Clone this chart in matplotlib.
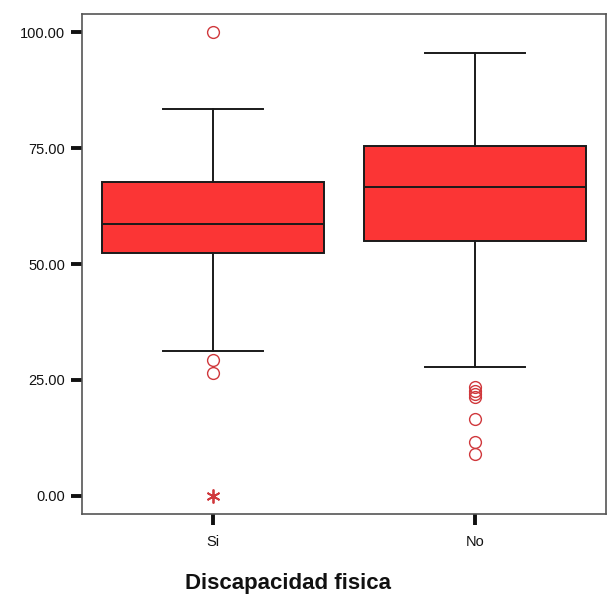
import matplotlib
matplotlib.use("Agg")
import matplotlib.pyplot as plt

# Box-plot summary for each group
categories = ["Si", "No"]
whisker_low = [31.3, 27.9]
q1 = [52.4, 55.0]
median = [58.6, 66.5]
q3 = [67.7, 75.5]
whisker_high = [83.4, 95.5]
outliers = [
    [100.0, 29.3, 26.5],
    [23.4, 22.7, 22.0, 21.4, 16.5, 11.6, 9.0],
]
extremes = [
    [0.0],
    [],
]

box_color = "#fb3535"
flier_color = "#d0383c"

plt.rcParams["font.family"] = ["Liberation Sans", "DejaVu Sans"]

fig = plt.figure(figsize=(6.15, 6.05), dpi=100)
ax = fig.add_axes([82 / 615, 1 - 514 / 605, 524 / 615, 500 / 605])

stats = []
for i, cat in enumerate(categories):
    stats.append(dict(
        label=cat, whislo=whisker_low[i], q1=q1[i], med=median[i],
        q3=q3[i], whishi=whisker_high[i], fliers=outliers[i],
    ))

positions = list(range(len(categories)))
ax.bxp(
    stats, positions=positions, widths=0.85, patch_artist=True,
    boxprops=dict(facecolor=box_color, edgecolor="#1a1a1a", linewidth=1.4),
    medianprops=dict(color="#1a1a1a", linewidth=1.4),
    whiskerprops=dict(color="#1a1a1a", linewidth=1.4),
    capprops=dict(color="#1a1a1a", linewidth=1.4),
    capwidths=0.38,
    flierprops=dict(marker="o", markersize=8.5, markerfacecolor="none",
                    markeredgecolor=flier_color, markeredgewidth=1.0),
)

# extreme values drawn as asterisks
for pos, vals in zip(positions, extremes):
    if vals:
        ax.plot([pos] * len(vals), vals, linestyle="none", marker=(6, 2, 0),
                markersize=10, markeredgecolor=flier_color,
                markeredgewidth=1.3)

ax.set_xlim(-0.5, 1.5)
ax.set_ylim(-3.9, 103.9)
ax.set_yticks([0, 25, 50, 75, 100])
ax.set_yticklabels([f"{v:.2f}" for v in [0, 25, 50, 75, 100]])
ax.set_xticks(positions)
ax.set_xticklabels(categories)

for sp in ax.spines.values():
    sp.set_color("#555555")
    sp.set_linewidth(1.2)

ax.tick_params(axis="both", direction="out", length=8, width=2.8,
               color="#111111", labelsize=10.5, labelcolor="#111111", pad=4)
ax.tick_params(axis="x", pad=7)

ax.set_xlabel("Discapacidad fisica", fontsize=16, fontweight="bold",
              color="#111111")
ax.xaxis.set_label_coords(0.393, -0.118)

fig.savefig("out.png", dpi=100, facecolor="white")
